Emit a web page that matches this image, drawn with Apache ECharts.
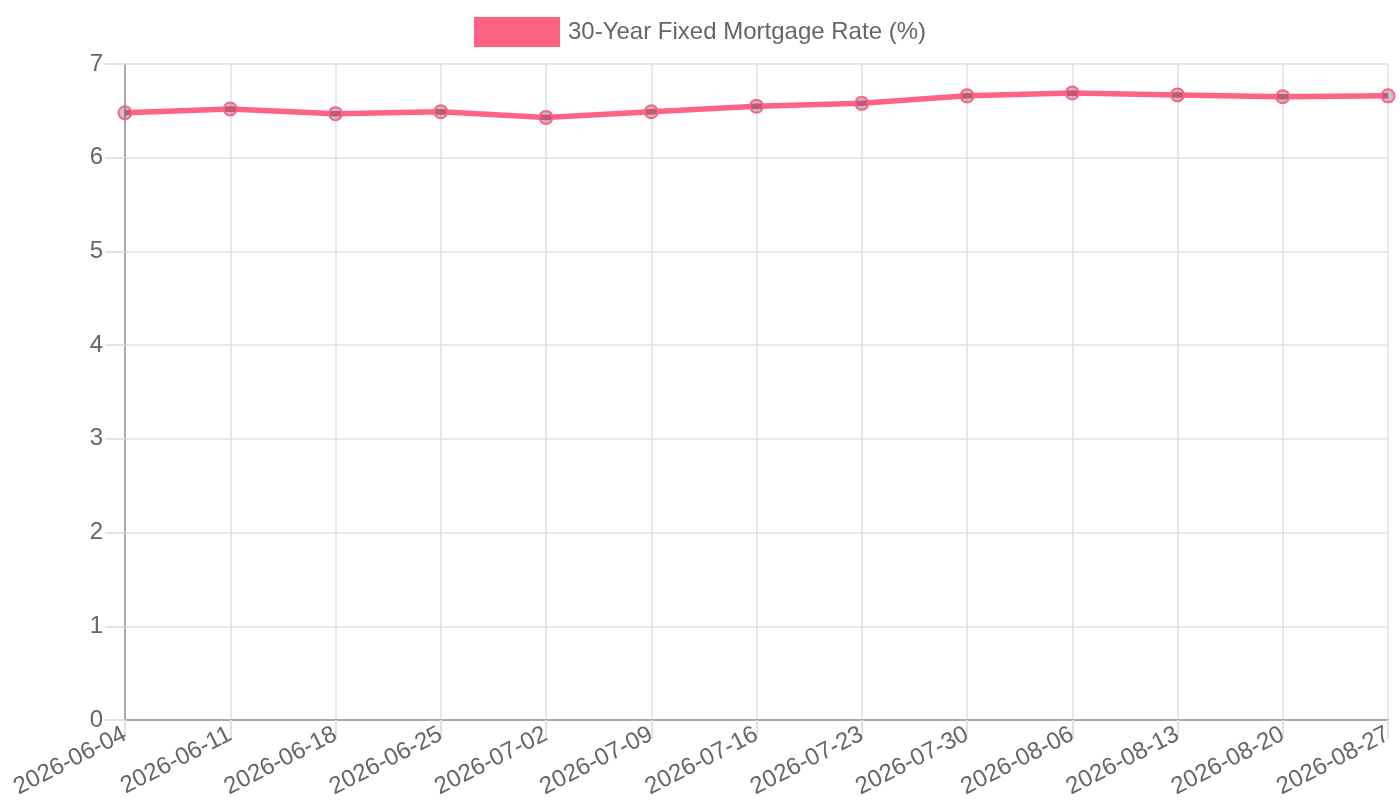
<!DOCTYPE html>
<html>
<head>
<meta charset="utf-8">
<script src="https://cdn.jsdelivr.net/npm/echarts@6/dist/echarts.min.js"></script>
<style>
  html, body { margin: 0; padding: 0; background: #fff; }
  #chart { width: 1400px; height: 800px; }
</style>
</head>
<body>
<div id="chart"></div>
<script>
var weeks = ['2026-06-04', '2026-06-11', '2026-06-18', '2026-06-25', '2026-07-02', '2026-07-09',
    '2026-07-16', '2026-07-23', '2026-07-30', '2026-08-06', '2026-08-13', '2026-08-20', '2026-08-27'];
var rates = [6.48, 6.52, 6.47, 6.49, 6.43, 6.49, 6.55, 6.58, 6.66, 6.69, 6.67, 6.65, 6.66];
var seriesName = '30-Year Fixed Mortgage Rate (%)';

var chart = echarts.init(document.getElementById('chart'));
var opts = {
    animation: false,
    textStyle: {
        fontFamily: 'Liberation Sans',
        color: '#666'
    },
    legend: {
        top: 12,
        left: 'center',
        itemWidth: 86,
        itemHeight: 30,
        itemGap: 20,
        icon: 'rect',
        textStyle: { fontSize: 24, color: '#666', padding: [0, 0, 0, 3] },
        data: [{ name: seriesName, itemStyle: { color: '#ff6384', borderWidth: 0 } }]
    },
    grid: {
        left: 125,
        right: 12,
        top: 64,
        bottom: 80,
        containLabel: false,
        outerBoundsMode: 'none'
    },
    xAxis: {
        type: 'category',
        data: weeks,
        boundaryGap: false,
        axisLine: { lineStyle: { color: '#aaa', width: 2 } },
        axisTick: { show: true, length: 19, lineStyle: { color: '#e2e2e2', width: 2 } },
        splitLine: { show: true, lineStyle: { color: '#e2e2e2', width: 1.5 } },
        axisLabel: {
            rotate: 27,
            fontSize: 24,
            color: '#666',
            margin: 13,
            interval: 0
        }
    },
    yAxis: {
        type: 'value',
        min: 0,
        max: 7,
        interval: 1,
        axisLine: { show: true, lineStyle: { color: '#aaa', width: 2 } },
        axisTick: { show: true, length: 20, lineStyle: { color: '#e2e2e2', width: 2 } },
        splitLine: { show: true, lineStyle: { color: '#e2e2e2', width: 1.5 } },
        axisLabel: { fontSize: 24, color: '#666', margin: 22 }
    },
    series: [{
        name: seriesName,
        type: 'line',
        data: rates,
        symbol: 'circle',
        symbolSize: 13,
        lineStyle: { color: '#ff6384', width: 5.5 },
        itemStyle: {
            color: 'rgba(60,60,90,0.3)',
            borderColor: '#ff6384',
            borderWidth: 2
        },
        z: 3
    }]
};
chart.setOption(opts);
</script>
</body>
</html>
